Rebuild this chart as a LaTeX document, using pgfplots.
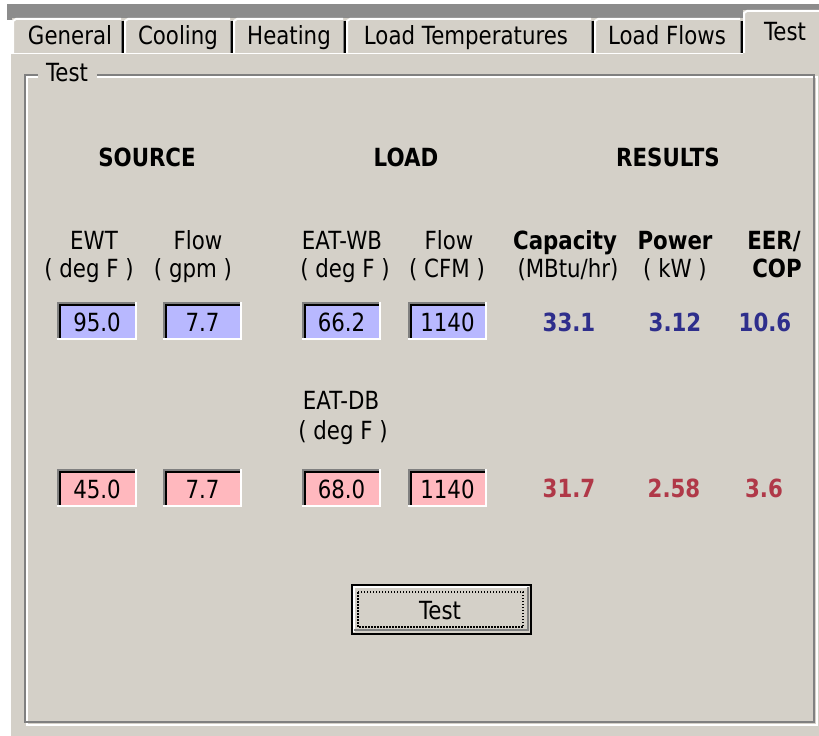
\documentclass[border=0pt]{standalone}
\usepackage{pgfplots}
\pgfplotsset{compat=1.18}
\usepackage{fontspec}
\setmainfont{DejaVu Sans}[FakeStretch=0.853]
\definecolor{winbg}{RGB}{212,208,200}
\definecolor{winsh}{RGB}{128,128,128}
\definecolor{windk}{RGB}{64,64,64}
\definecolor{boxblue}{RGB}{184,184,255}
\definecolor{boxpink}{RGB}{255,184,190}
\definecolor{txtblue}{RGB}{46,46,140}
\definecolor{txtred}{RGB}{176,56,72}
\definecolor{band}{RGB}{140,140,140}
\newcommand{\fs}{\fontsize{25bp}{30bp}\selectfont}
% edit box: x1 y1 x2 y2 fill text
\newcommand{\ebox}[6]{%
  \fill[#5] (axis cs:#1,#2) rectangle (axis cs:#3,#4);
  \draw[line width=2bp,winsh] (axis cs:#1+1,#4) -- (axis cs:#1+1,#2+1) -- (axis cs:#3,#2+1);
  \draw[line width=2bp,black] (axis cs:#1+3,#4-2) -- (axis cs:#1+3,#2+3) -- (axis cs:#3-2,#2+3);
  \draw[line width=2bp,white] (axis cs:#1,#4-1) -- (axis cs:#3-1,#4-1) -- (axis cs:#3-1,#2);
  \node[anchor=base,font=\fs,inner sep=0pt] at (axis cs:{(#1+#3)/2},#4-9) {#6};
}
% tab: x1 x2 text center
\newcommand{\wtab}[4]{%
  \fill[winbg] (axis cs:#1,53) rectangle (axis cs:#2,18);
  \draw[white,line width=2bp] (axis cs:#1+1,53) -- (axis cs:#1+1,21) -- (axis cs:#1+4,19) -- (axis cs:#2-3,19);
  \draw[winsh,line width=1bp] (axis cs:#2-2.5,21) -- (axis cs:#2-2.5,53);
  \draw[black,line width=1.6bp] (axis cs:#2-1,21) -- (axis cs:#2-1,53);
  \node[anchor=base,font=\fs,inner sep=0pt] at (axis cs:#4,45) {#3};
}
\newcommand{\lab}[4][]{\node[anchor=base,font=\fs#1,inner sep=0pt] at (axis cs:#2,#3) {#4};}
\begin{document}
\begin{tikzpicture}
\begin{axis}[width=819bp,height=736bp,scale only axis,
  xmin=0,xmax=819,ymin=0,ymax=736,y dir=reverse,
  axis lines=none,xtick=\empty,ytick=\empty,enlargelimits=false]
% background
\fill[white] (axis cs:0,0) rectangle (axis cs:819,736);
\fill[band] (axis cs:7,4) rectangle (axis cs:819,20);
% panel
\fill[winbg] (axis cs:9,52) rectangle (axis cs:819,736);
\draw[white,line width=2bp] (axis cs:10,736) -- (axis cs:10,53) -- (axis cs:819,53);
% tabs
\wtab{12}{124}{General}{70}
\wtab{124}{233}{Cooling}{178}
\wtab{233}{346}{Heating}{289}
\wtab{346}{594}{Load Temperatures}{466}
\wtab{594}{743}{Load Flows}{667}
% selected tab
\fill[winbg] (axis cs:743,55) rectangle (axis cs:819,10);
\draw[white,line width=2bp] (axis cs:744,53) -- (axis cs:744,13) -- (axis cs:747,11) -- (axis cs:819,11);
\node[anchor=base,font=\fs,inner sep=0pt] at (axis cs:785,41) {Test};
% group box
\draw[white,line width=2bp] (axis cs:27,77) rectangle (axis cs:817,725);
\draw[winsh,line width=2bp] (axis cs:25,75) rectangle (axis cs:814,722);
\fill[winbg] (axis cs:38,64) rectangle (axis cs:97,86);
\lab{67}{82}{Test}
% headers
\lab[\bfseries]{147}{167}{SOURCE}
\lab[\bfseries]{406}{167}{LOAD}
\lab[\bfseries]{668}{167}{RESULTS}
\lab{94}{249}{EWT}
\lab{198}{249}{Flow}
\lab{342}{249}{EAT-WB}
\lab{449}{249}{Flow}
\lab[\bfseries]{565}{249}{Capacity}
\lab[\bfseries]{675}{249}{Power}
\lab[\bfseries]{774}{249}{EER/}
\lab{89}{277}{( deg F )}
\lab{193}{277}{( gpm )}
\lab{345}{277}{( deg F )}
\lab{447}{277}{( CFM )}
\lab{568}{277}{(MBtu/hr)}
\lab{675}{277}{( kW )}
\lab[\bfseries]{777}{277}{COP}
\lab{341}{409}{EAT-DB}
\lab{343}{439}{( deg F )}
% input boxes
\ebox{57}{302}{137}{340}{boxblue}{95.0}
\ebox{163}{302}{242}{340}{boxblue}{7.7}
\ebox{302}{302}{381}{340}{boxblue}{66.2}
\ebox{408}{302}{487}{340}{boxblue}{1140}
\ebox{57}{469}{137}{507}{boxpink}{45.0}
\ebox{163}{469}{242}{507}{boxpink}{7.7}
\ebox{302}{469}{381}{507}{boxpink}{68.0}
\ebox{408}{469}{487}{507}{boxpink}{1140}
% results
\addplot[draw=none,mark=none,nodes near coords,point meta=explicit symbolic,
  every node near coord/.append style={anchor=base,font=\fs\bfseries,text=txtblue,inner sep=0pt}]
  table[meta=label] {
x y label
569 331 33.1
675 331 3.12
765 331 10.6
};
\addplot[draw=none,mark=none,nodes near coords,point meta=explicit symbolic,
  every node near coord/.append style={anchor=base,font=\fs\bfseries,text=txtred,inner sep=0pt}]
  table[meta=label] {
x y label
569 497 31.7
674 497 2.58
764 497 3.6
};
% button
\fill[winbg] (axis cs:351,584) rectangle (axis cs:532,635);
\draw[white,line width=2bp] (axis cs:354,632) -- (axis cs:354,587) -- (axis cs:529,587);
\draw[winsh,line width=2bp] (axis cs:354,630) -- (axis cs:528,630) -- (axis cs:528,587);
\draw[black,line width=2bp] (axis cs:352,585) rectangle (axis cs:531,634);
\draw[black,line width=2.5bp] (axis cs:352,634) -- (axis cs:531,634) -- (axis cs:531,585);
\draw[black,line width=1.5bp,dash pattern=on 1.5bp off 1.5bp] (axis cs:358,592) rectangle (axis cs:523,627);
\lab{440}{619}{Test}
\end{axis}
\end{tikzpicture}
\end{document}
